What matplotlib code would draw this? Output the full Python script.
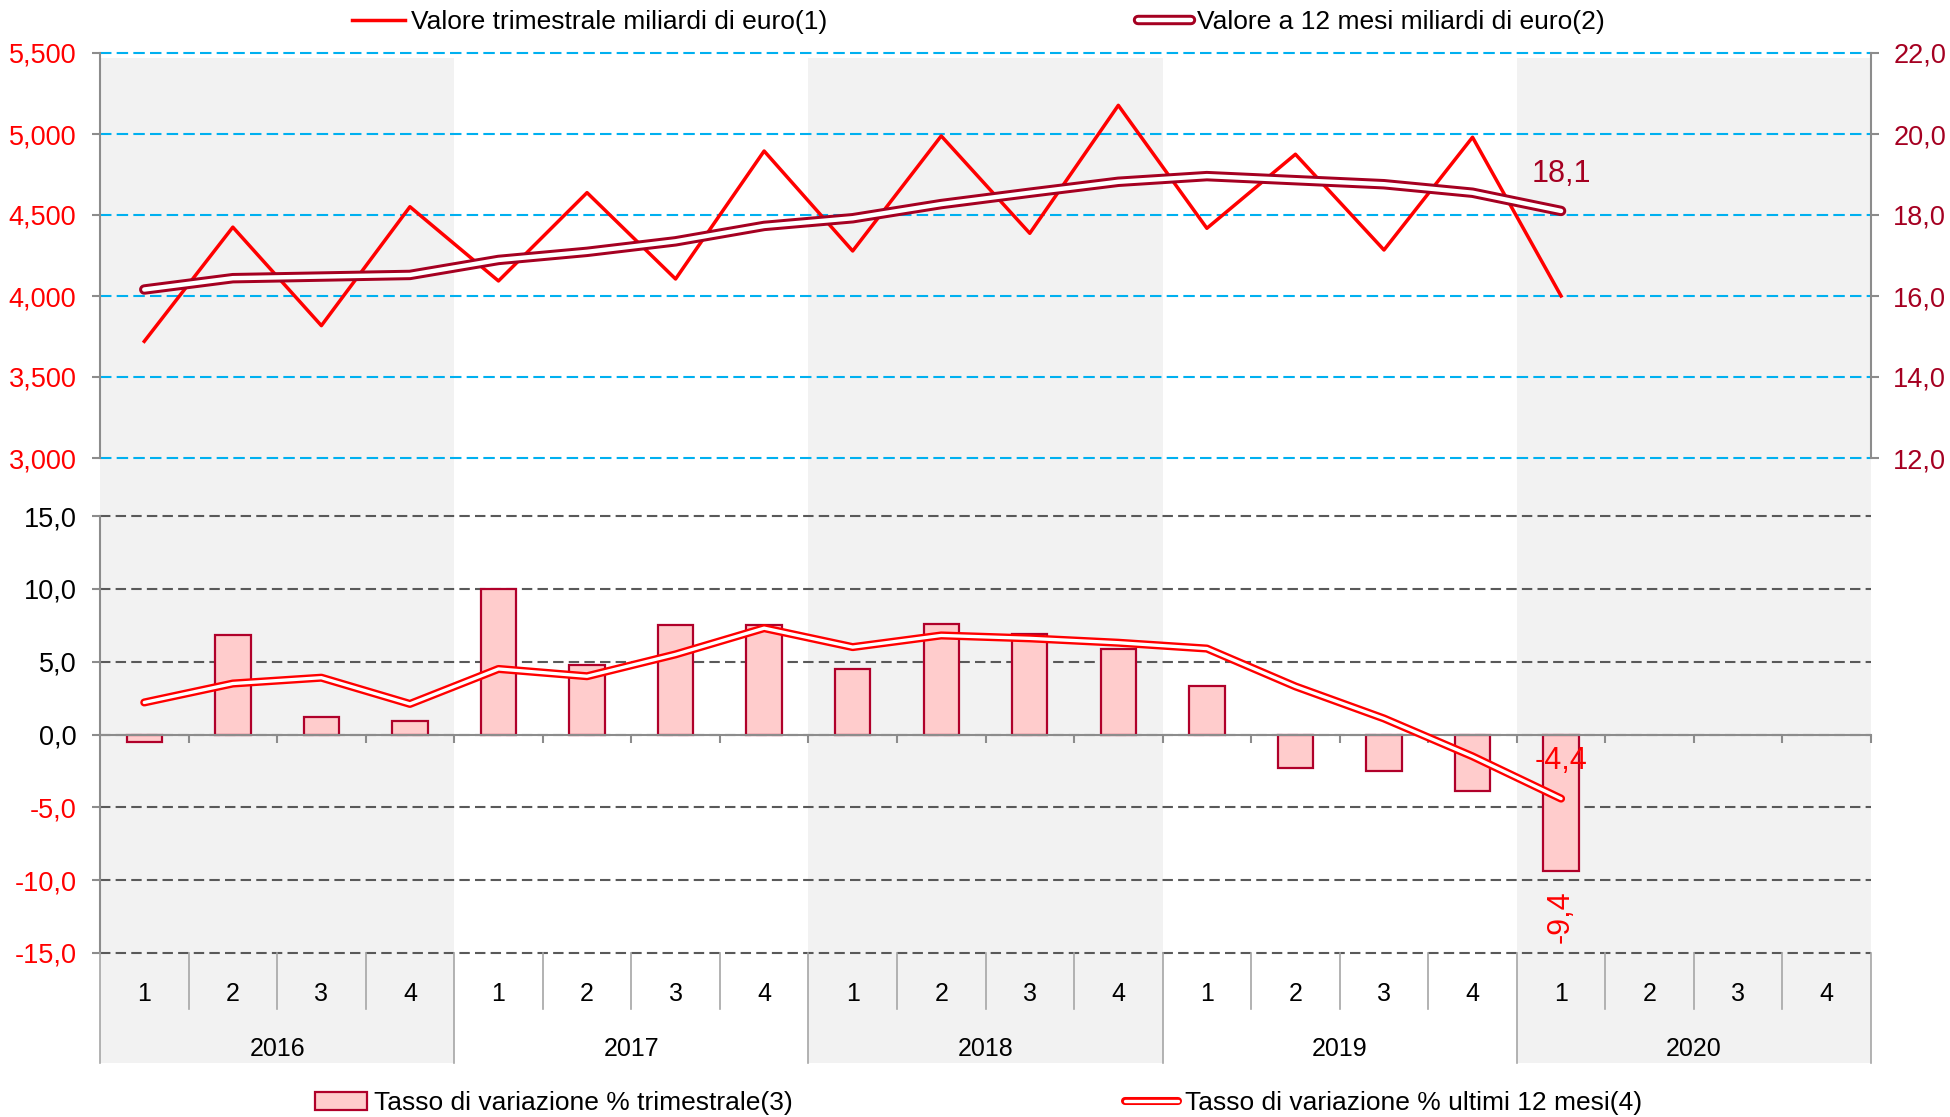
import matplotlib
matplotlib.use("Agg")
import matplotlib.pyplot as plt
import matplotlib.patheffects as pe
from matplotlib.lines import Line2D
from matplotlib.patches import Patch
import numpy as np

plt.rcParams["font.family"] = ["Liberation Sans", "DejaVu Sans"]

years = ["2016", "2017", "2018", "2019", "2020"]
quarters = ["1", "2", "3", "4"]

# valore trimestrale (asse sinistro)
valore_trim = [3720, 4425, 3817, 4551, 4093, 4638, 4105, 4895, 4278,
               4988, 4387, 5177, 4418, 4875, 4284, 4980, 4000]
# valore a 12 mesi (asse destro)
valore_12m = [16.16, 16.44, 16.48, 16.52, 16.89, 17.09, 17.35, 17.73, 17.92,
              18.27, 18.55, 18.82, 18.96, 18.86, 18.76, 18.55, 18.1]
# tassi di variazione %
tasso_trim = [-0.5, 6.8, 1.2, 0.9, 10.0, 4.8, 7.5, 7.5, 4.5,
              7.6, 6.9, 5.9, 3.3, -2.3, -2.5, -3.9, -9.4]
tasso_12m = [2.2, 3.5, 3.9, 2.1, 4.5, 4.0, 5.5, 7.3, 6.0,
             6.8, 6.6, 6.3, 5.9, 3.3, 1.1, -1.5, -4.4]

RED = "#ff0000"
DARKRED = "#a50021"
BAREDGE = "#b0002a"
GRAY = "#8c8c8c"

n_cat = len(years) * len(quarters)
x = np.arange(len(valore_trim))

fig = plt.figure(figsize=(19.5, 11.17), dpi=100)

L, R = 100 / 1950, 1871 / 1950
W = R - L


def fy(px):
    return 1 - px / 1117


# shaded years
bg = fig.add_axes([L, fy(1063), W, fy(58) - fy(1063)], zorder=0)
bg.set_xlim(-0.5, n_cat - 0.5)
bg.set_ylim(0, 1)
bg.axis("off")
for k in range(0, len(years), 2):
    bg.axvspan(4 * k - 0.5, 4 * k + 3.5, color="#f2f2f2", lw=0)

# ---- top panel ----
ax = fig.add_axes([L, fy(458), W, fy(53) - fy(458)], zorder=1)
ax.patch.set_visible(False)
ax.set_xlim(-0.5, n_cat - 0.5)
ax.set_ylim(3000, 5500)
ax.set_yticks(range(3000, 5501, 500))
ax.set_yticklabels([f"{v:,}" for v in range(3000, 5501, 500)])
ax.grid(axis="y", color="#00b0f0", linestyle=(0, (5.5, 2.5)), lw=1.5)
ax.set_axisbelow(True)
for gl in ax.get_ygridlines():
    gl.set_clip_on(False)
for s in ("top", "bottom", "right"):
    ax.spines[s].set_visible(False)
ax.spines["left"].set_color(GRAY)
ax.spines["left"].set_linewidth(1.5)
ax.tick_params(axis="y", direction="out", length=6, width=1.5, color=GRAY,
               labelsize=19.5, labelcolor=RED, pad=11)
ax.tick_params(axis="x", bottom=False, labelbottom=False)
ax.plot(x, valore_trim, color=RED, lw=2.5, zorder=3)

ax2 = ax.twinx()
ax2.set_zorder(2)
ax2.set_ylim(12, 22)
ax2.set_yticks(range(12, 23, 2))
ax2.set_yticklabels([f"{v:.1f}".replace(".", ",") for v in range(12, 23, 2)])
for s in ("top", "bottom", "left"):
    ax2.spines[s].set_visible(False)
ax2.spines["right"].set_color(GRAY)
ax2.spines["right"].set_linewidth(1.5)
ax2.tick_params(axis="y", direction="out", length=6, width=1.5, color=GRAY,
                labelsize=19.5, labelcolor=DARKRED, pad=10)
fx_12m = [pe.Stroke(linewidth=7.5, foreground=DARKRED, capstyle="round"), pe.Normal()]
ax2.plot(x, valore_12m, color="white", lw=3.2, solid_capstyle="round",
         path_effects=fx_12m, zorder=3)
ax2.text(x[-1], 19.0, f"{valore_12m[-1]:.1f}".replace(".", ","), color=DARKRED,
         fontsize=22, ha="center", va="center")

# ---- bottom panel ----
axb = fig.add_axes([L, fy(953), W, fy(516) - fy(953)], zorder=1)
axb.patch.set_visible(False)
axb.set_xlim(-0.5, n_cat - 0.5)
axb.set_ylim(-15, 15)
yt = list(range(-15, 16, 5))
axb.set_yticks(yt)
axb.set_yticklabels([f"{v:.1f}".replace(".", ",") for v in yt])
for lab, v in zip(axb.get_yticklabels(), yt):
    lab.set_color(RED if v < 0 else "black")
axb.grid(axis="y", color="#595959", linestyle=(0, (5, 2.5)), lw=1.5)
axb.set_axisbelow(True)
for gl in axb.get_ygridlines():
    gl.set_clip_on(False)
for s in ("top", "right"):
    axb.spines[s].set_visible(False)
axb.spines["bottom"].set_position(("data", 0))
for s in ("left", "bottom"):
    axb.spines[s].set_color(GRAY)
    axb.spines[s].set_linewidth(1.5)
axb.set_xticks(np.arange(0.5, n_cat, 1))
axb.tick_params(axis="x", direction="out", length=5.5, width=1.5, color=GRAY,
                labelbottom=False)
axb.tick_params(axis="y", direction="out", length=6, width=1.5, color=GRAY,
                labelsize=19.5, pad=11)
axb.bar(x, tasso_trim, width=0.4, color="#ffcccc", edgecolor=BAREDGE, lw=1.6, zorder=2)
fx_pct = [pe.Stroke(linewidth=5.8, foreground=RED, capstyle="round"), pe.Normal()]
axb.plot(x, tasso_12m, color="white", lw=2.4, solid_capstyle="round",
         path_effects=fx_pct, zorder=3)
axb.text(x[-1], -1.85, f"{tasso_12m[-1]:.1f}".replace(".", ","), color=RED,
         fontsize=22, ha="center", va="center")
axb.text(x[-1], -12.5, f"{tasso_trim[-1]:.1f}".replace(".", ","), color=RED,
         fontsize=22, ha="center", va="center", rotation=90)

# ---- category axis ----
cat = fig.add_axes([L, fy(1063), W, fy(953) - fy(1063)], zorder=1)
cat.set_xlim(-0.5, n_cat - 0.5)
cat.set_ylim(0, 1)
cat.axis("off")
q_split = (1063 - 1009) / 110
for i in range(n_cat + 1):
    b = i - 0.5
    y0 = 0 if i % 4 == 0 else q_split
    cat.plot([b, b], [y0, 1], color="#a6a6a6", lw=1.2, clip_on=False)
for i in range(n_cat):
    cat.text(i, 0.627, quarters[i % 4], ha="center", va="center", fontsize=18)
for k, yr in enumerate(years):
    cat.text(4 * k + 1.5, 0.127, yr, ha="center", va="center", fontsize=18)

# ---- legends ----
leg_kw = dict(loc="center left", frameon=False, fontsize=19, handlelength=2.0,
              handletextpad=0.25, borderpad=0, borderaxespad=0)
h1 = Line2D([], [], color=RED, lw=2.5)
h2 = Line2D([], [], color="white", lw=3.2, solid_capstyle="round", path_effects=fx_12m)
h3 = Patch(facecolor="#ffcccc", edgecolor=BAREDGE, lw=1.6)
h4 = Line2D([], [], color="white", lw=2.4, solid_capstyle="round", path_effects=fx_pct)
fig.legend([h1], ["Valore trimestrale miliardi di euro(1)"],
           bbox_to_anchor=(283 / 1568, 1 - 18 / 898), **leg_kw)
fig.legend([h2], ["Valore a 12 mesi miliardi di euro(2)"],
           bbox_to_anchor=(915 / 1568, 1 - 18 / 898), **leg_kw)
fig.legend([h3], ["Tasso di variazione % trimestrale(3)"],
           bbox_to_anchor=(253 / 1568, 1 - 887 / 898), **leg_kw)
fig.legend([h4], ["Tasso di variazione % ultimi 12 mesi(4)"],
           bbox_to_anchor=(905 / 1568, 1 - 887 / 898), **leg_kw)

fig.savefig("out.png", dpi=100)
